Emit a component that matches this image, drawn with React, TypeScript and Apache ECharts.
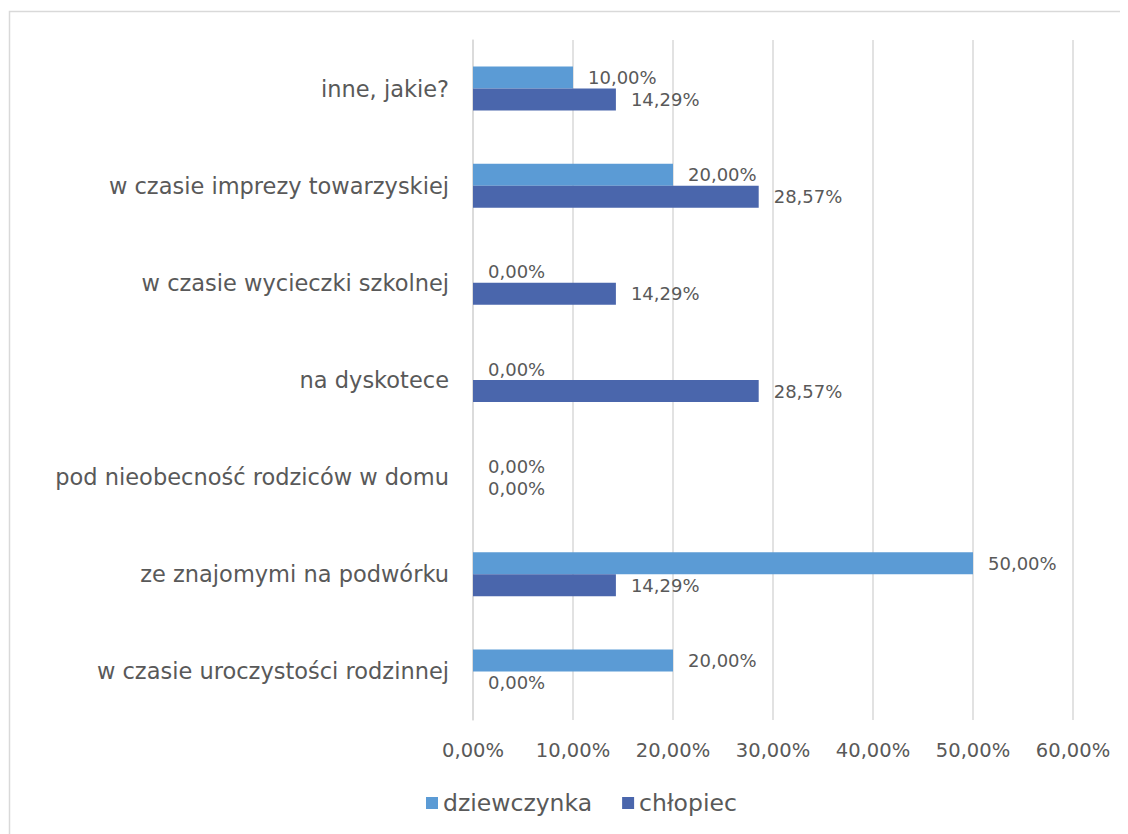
import React, { useEffect, useRef } from "react";
import * as echarts from "echarts";

const categories = [
  "inne, jakie?",
  "w czasie imprezy towarzyskiej",
  "w czasie wycieczki szkolnej",
  "na dyskotece",
  "pod nieobecność rodziców w domu",
  "ze znajomymi na podwórku",
  "w czasie uroczystości rodzinnej",
];
const dziewczynka = [10.0, 20.0, 0.0, 0.0, 0.0, 50.0, 20.0];
const chlopiec = [14.29, 28.57, 14.29, 28.57, 0.0, 14.29, 0.0];
const seriesNames = ["dziewczynka", "chłopiec"];

const FONT = "'DejaVu Sans', sans-serif";
const TXT = "#595959";
const fmt = (v: number) => v.toFixed(2).replace(".", ",") + "%";

export default function App() {
  const ref = useRef<HTMLDivElement>(null);
  useEffect(() => {
    if (!ref.current) return;
    const chart = echarts.init(ref.current, undefined, { renderer: "svg" });
    const label = {
      show: true,
      position: "right" as const,
      distance: 15,
      color: TXT,
      fontFamily: FONT,
      fontSize: 18,
      formatter: (p: any) => fmt(p.value),
    };
    chart.setOption({
      animation: false,
      textStyle: { fontFamily: FONT },
      graphic: [
        {
          type: "rect",
          shape: { x: 1.5, y: 3.5, width: 1300, height: 1000 },
          style: { fill: "none", stroke: "#d9d9d9", lineWidth: 1.5 },
          silent: true,
        },
      ],
      grid: { left: 465, right: 55, top: 32, bottom: 114, containLabel: false },
      legend: {
        data: seriesNames,
        left: 413,
        top: 778,
        icon: "rect",
        itemWidth: 12,
        itemHeight: 12,
        itemGap: 30,
        textStyle: { color: TXT, fontFamily: FONT, fontSize: 23.5 },
      },
      xAxis: {
        type: "value",
        min: 0,
        max: 60,
        interval: 10,
        axisLine: { show: false },
        axisTick: { show: false },
        splitLine: { lineStyle: { color: "#d9d9d9", width: 1.5 } },
        axisLabel: {
          color: TXT,
          fontFamily: FONT,
          fontSize: 19.5,
          margin: 20,
          formatter: (v: number) => fmt(v),
        },
      },
      yAxis: {
        type: "category",
        inverse: true,
        data: categories,
        axisLine: { show: true, lineStyle: { color: "#d9d9d9", width: 1.5 } },
        axisTick: { show: false },
        axisLabel: { color: TXT, fontFamily: FONT, fontSize: 22.5, margin: 24 },
      },
      series: [
        {
          name: seriesNames[0],
          type: "bar",
          data: dziewczynka,
          barWidth: 22,
          barGap: "0%",
          itemStyle: { color: "#5B9BD5" },
          label,
        },
        {
          name: seriesNames[1],
          type: "bar",
          data: chlopiec,
          barWidth: 22,
          barGap: "0%",
          itemStyle: { color: "#4A66AC" },
          label,
        },
      ],
    });
    return () => chart.dispose();
  }, []);
  return <div ref={ref} style={{ width: 1120, height: 826 }} />;
}
